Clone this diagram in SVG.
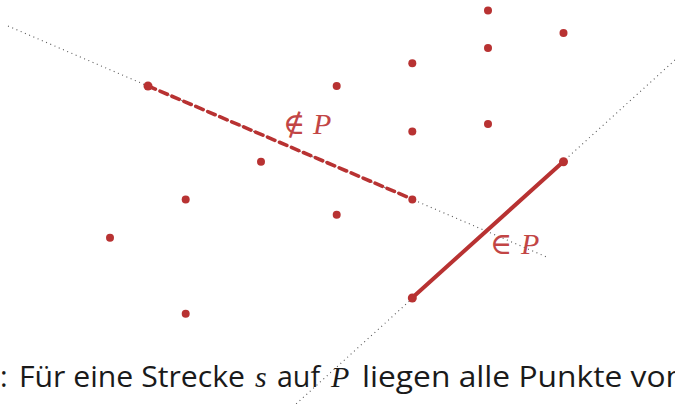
<svg xmlns="http://www.w3.org/2000/svg" width="675" height="404" viewBox="0 0 675 404">
<style>
.dot{fill:#b83232}
.aux{stroke:#555;stroke-width:1.1;stroke-dasharray:1 3.6;fill:none}
.seg{stroke:#b83232;fill:none;stroke-linecap:round}
.lbl{fill:#c24545;font-family:"Liberation Serif","DejaVu Serif",serif;font-size:30px}
.it{font-style:italic}
.txt{fill:#1a1a1a;font-family:"Open Sans","Noto Sans",sans-serif;font-size:29px;font-weight:400}
.math{fill:#1a1a1a;font-family:"Liberation Serif","DejaVu Serif",serif;font-size:30px;font-style:italic}
</style>
<rect width="675" height="404" fill="#fff"/>
<g id="connectors">
<line class="aux" x1="8" y1="26" x2="549" y2="258"/>
<line class="aux" x1="675" y1="60" x2="296" y2="404"/>
<line class="seg" x1="148" y1="86" x2="412" y2="199" stroke-width="3.6" stroke-dasharray="8 5"/>
<line class="seg" x1="412" y1="298" x2="563.5" y2="161.5" stroke-width="4"/>
</g>
<g id="points">
<circle id="p1" class="dot" cx="488" cy="10.5" r="4"/>
<circle id="p2" class="dot" cx="488" cy="48" r="4"/>
<circle id="p3" class="dot" cx="563.5" cy="33" r="4"/>
<circle id="p4" class="dot" cx="412.3" cy="63.3" r="4"/>
<circle id="p5" class="dot" cx="336.7" cy="86" r="4"/>
<circle id="p6" class="dot" cx="148" cy="86" r="4.5"/>
<circle id="p7" class="dot" cx="412.3" cy="131.5" r="4"/>
<circle id="p8" class="dot" cx="488" cy="124" r="4"/>
<circle id="p9" class="dot" cx="261" cy="161.7" r="4"/>
<circle id="p10" class="dot" cx="563.5" cy="161.7" r="4.5"/>
<circle id="p11" class="dot" cx="185.7" cy="199.5" r="4"/>
<circle id="p12" class="dot" cx="412.3" cy="199.5" r="4"/>
<circle id="p13" class="dot" cx="336.7" cy="214.7" r="4"/>
<circle id="p14" class="dot" cx="110" cy="237.7" r="4"/>
<circle id="p15" class="dot" cx="412.3" cy="298" r="4.5"/>
<circle id="p16" class="dot" cx="185.7" cy="313.7" r="4"/>
</g>
<g id="label-notin">
<text class="lbl" x="283" y="134">∉</text>
<text class="lbl it" x="313" y="134">P</text>
</g>
<g id="label-in">
<text class="lbl" x="490" y="254">∈</text>
<text class="lbl it" x="521" y="254">P</text>
</g>
<g id="caption">
<text class="txt" x="0" y="387" font-weight="700">:</text>
<text class="txt" x="19" y="387" textLength="226" lengthAdjust="spacingAndGlyphs">Für eine Strecke</text>
<text class="math" x="255" y="387">s</text>
<text class="txt" x="277" y="387" textLength="43" lengthAdjust="spacingAndGlyphs">auf</text>
<text class="math" x="331" y="387">P</text>
<text class="txt" x="362" y="387" textLength="323" lengthAdjust="spacingAndGlyphs">liegen alle Punkte von</text>
</g>
</svg>
